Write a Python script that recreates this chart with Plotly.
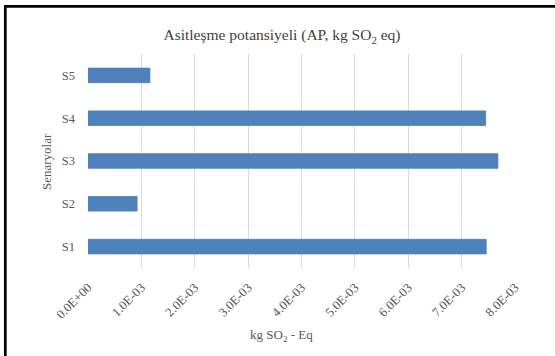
import plotly.graph_objects as go

# Acidification potential per scenario (kg SO2 eq)
scenarios = ["S1", "S2", "S3", "S4", "S5"]
ap_values = [7.46e-3, 0.92e-3, 7.68e-3, 7.45e-3, 1.16e-3]

tick_vals = [0, 1e-3, 2e-3, 3e-3, 4e-3, 5e-3, 6e-3, 7e-3, 8e-3]
tick_text = ["0.0E+00", "1.0E-03", "2.0E-03", "3.0E-03", "4.0E-03",
             "5.0E-03", "6.0E-03", "7.0E-03", "8.0E-03"]

W, H = 555, 356
ML, MR, MT, MB = 88, 40, 54, 88
PW, PH = W - ML - MR, H - MT - MB

FONT = "Liberation Serif"
TXT = "#595959"
GRID = "#d9d9d9"


def px_to_paper_x(px):
    return (px - ML) / PW


def px_to_paper_y(py):
    return (H - MB - py) / PH


fig = go.Figure(
    go.Bar(
        x=ap_values,
        y=scenarios,
        orientation="h",
        marker=dict(color="#4f81bd", line=dict(color="#4a7ebb", width=0.8)),
    )
)

fig.update_layout(
    width=W,
    height=H,
    margin=dict(l=ML, r=MR, t=MT, b=MB),
    paper_bgcolor="white",
    plot_bgcolor="white",
    bargap=0.66,
    showlegend=False,
    font=dict(family=FONT, color=TXT, size=12),
    title=dict(
        text="Asitleşme potansiyeli (AP, kg SO<sub>2</sub> eq)",
        x=282 / W,
        xanchor="center",
        xref="container",
        y=1 - 35 / H,
        yanchor="middle",
        yref="container",
        font=dict(family=FONT, size=15.5, color="#404040"),
    ),
    xaxis=dict(
        range=[0, 8e-3],
        tickvals=tick_vals,
        ticktext=tick_text,
        tickangle=-45,
        showgrid=True,
        gridcolor=GRID,
        gridwidth=1,
        zeroline=False,
        showline=False,
        ticks="outside",
        ticklen=6,
        tickcolor="rgba(0,0,0,0)",
        tickfont=dict(family=FONT, size=12.8, color=TXT),
        fixedrange=True,
    ),
    yaxis=dict(
        showgrid=False,
        zeroline=False,
        showline=False,
        ticks="",
        ticklabelstandoff=12,
        tickfont=dict(family=FONT, size=12.5, color=TXT),
        fixedrange=True,
    ),
    annotations=[
        dict(
            text="kg SO<sub>2</sub> - Eq",
            xref="paper", yref="paper",
            x=px_to_paper_x(281), y=px_to_paper_y(335),
            xanchor="center", yanchor="middle",
            showarrow=False,
            font=dict(family=FONT, size=13, color=TXT),
        ),
        dict(
            text="Senaryolar",
            xref="paper", yref="paper",
            x=px_to_paper_x(46), y=px_to_paper_y(162),
            xanchor="center", yanchor="middle",
            textangle=-90,
            showarrow=False,
            font=dict(family=FONT, size=13, color=TXT),
        ),
    ],
    shapes=[
        # chart frame (left and top edges)
        dict(type="line", xref="paper", yref="paper",
             x0=px_to_paper_x(5.3), x1=px_to_paper_x(5.3),
             y0=px_to_paper_y(6), y1=px_to_paper_y(H + 5),
             line=dict(color="black", width=2.7)),
        dict(type="line", xref="paper", yref="paper",
             x0=px_to_paper_x(4), x1=px_to_paper_x(W + 5),
             y0=px_to_paper_y(6.3), y1=px_to_paper_y(6.3),
             line=dict(color="black", width=2.7)),
    ],
)

fig.write_html("out.html", config={"displayModeBar": False})
